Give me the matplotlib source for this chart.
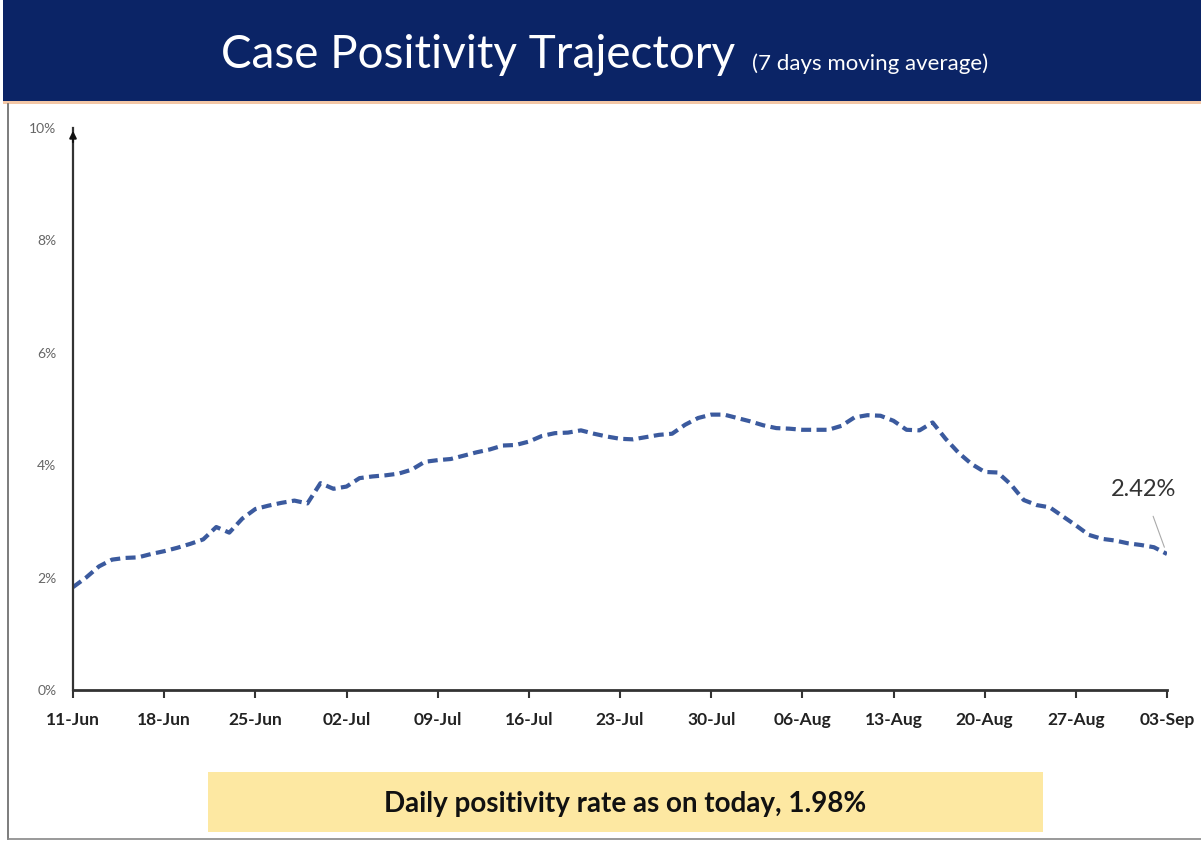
import matplotlib
matplotlib.use("Agg")
import matplotlib.pyplot as plt
from matplotlib.patches import Rectangle
from matplotlib.lines import Line2D

# ---- data ----
tick_labels = ["11-Jun", "18-Jun", "25-Jun", "02-Jul", "09-Jul", "16-Jul", "23-Jul",
               "30-Jul", "06-Aug", "13-Aug", "20-Aug", "27-Aug", "03-Sep"]
positivity = [1.83, 2.00, 2.20, 2.32, 2.35, 2.36, 2.42, 2.47, 2.53, 2.60,
              2.68, 2.90, 2.80, 3.05, 3.22, 3.28, 3.33, 3.37, 3.32, 3.68,
              3.58, 3.62, 3.77, 3.80, 3.82, 3.85, 3.92, 4.06, 4.09, 4.11,
              4.17, 4.23, 4.28, 4.35, 4.36, 4.42, 4.52, 4.57, 4.58, 4.62,
              4.56, 4.51, 4.47, 4.46, 4.50, 4.54, 4.56, 4.72, 4.84, 4.90,
              4.90, 4.84, 4.78, 4.71, 4.66, 4.65, 4.63, 4.63, 4.63, 4.70,
              4.85, 4.89, 4.88, 4.79, 4.63, 4.62, 4.76, 4.47, 4.22, 4.02,
              3.88, 3.87, 3.66, 3.38, 3.29, 3.25, 3.09, 2.93, 2.76, 2.69,
              2.66, 2.61, 2.58, 2.54, 2.42]
ytick_vals = [0, 2, 4, 6, 8, 10]
ytick_labels = ["0%", "2%", "4%", "6%", "8%", "10%"]
last_label = "2.42%"
title = "Case Positivity Trajectory"
subtitle = "(7 days moving average)"
footer = "Daily positivity rate as on today, 1.98%"

W, H = 1201, 841
fig = plt.figure(figsize=(W / 100, H / 100), dpi=100)
fig.patch.set_facecolor("white")

def fx(px):
    return px / W

def fy(py):
    return 1 - py / H

narrow = ["Lato", "DejaVu Sans"]

# banner
fig.patches.append(Rectangle((fx(3), fy(101)), fx(1198), 101 / H, transform=fig.transFigure,
                             facecolor="#0b2466", edgecolor="none", zorder=0))
fig.patches.append(Rectangle((fx(3), fy(104)), fx(1198), 3 / H, transform=fig.transFigure,
                             facecolor="#f3c7a6", edgecolor="none", zorder=0))
# border lines
fig.lines.append(Line2D([fx(8), fx(8)], [fy(104), fy(839)], transform=fig.transFigure,
                        color="#666666", lw=1.2))
fig.lines.append(Line2D([fx(8), fx(1201)], [fy(839), fy(839)], transform=fig.transFigure,
                        color="#888888", lw=1.2))

fig.text(fx(478), fy(55), title, color="white", fontsize=33, family=["Lato", "DejaVu Sans"],
         ha="center", va="center")
fig.text(fx(870), fy(64), subtitle, color="white", fontsize=16, family=["Lato", "DejaVu Sans"],
         ha="center", va="center")

# yellow box
fig.patches.append(Rectangle((fx(208), fy(832)), fx(835), 60 / H, transform=fig.transFigure,
                             facecolor="#fde8a2", edgecolor="none", zorder=0))
fig.text(fx(625), fy(804), footer, fontsize=20, fontweight="bold", family=narrow,
         color="#111111", ha="center", va="center")

# axes
ax = fig.add_axes([fx(73), 1 - 690 / H, fx(1167 - 73), (690 - 128) / H])
x = list(range(len(positivity)))
ax.plot(x, positivity, color="#3b5a9e", lw=3.0, dashes=(2.4, 1.3), solid_capstyle="butt",
        dash_capstyle="butt")
ax.set_xlim(0, len(positivity) - 1)
ax.set_ylim(0, 10)
ax.set_xticks(list(range(0, len(positivity), 7)))
ax.set_xticklabels(tick_labels, fontsize=12.5, fontweight="bold", family=narrow, color="#222222")
ax.set_yticks(ytick_vals)
ax.set_yticklabels(ytick_labels, fontsize=10, family=narrow, color="#666666")
ax.tick_params(axis="y", length=0, pad=12)
ax.tick_params(axis="x", length=6, width=1.5, direction="out", color="#333333", pad=10)
for s in ["top", "right"]:
    ax.spines[s].set_visible(False)
ax.spines["left"].set_color("#333333")
ax.spines["left"].set_linewidth(1.6)
ax.spines["bottom"].set_color("#333333")
ax.spines["bottom"].set_linewidth(2)
ax.patch.set_alpha(0)
ax.annotate("", xy=(0, 1.0), xytext=(0, 0.97), xycoords="axes fraction",
            arrowprops=dict(arrowstyle="-|>", color="#111111", lw=1.5, mutation_scale=10),
            annotation_clip=False)

n = len(positivity) - 1
ax.annotate(last_label, xy=(n - 0.2, positivity[-1] + 0.12), xytext=(n - 1.8, 3.56),
            fontsize=17, family=narrow, color="#333333", ha="center", va="center",
            arrowprops=dict(arrowstyle="-", color="#aaaaaa", lw=0.8, shrinkA=10, shrinkB=0))

fig.savefig("out.png", dpi=100)
